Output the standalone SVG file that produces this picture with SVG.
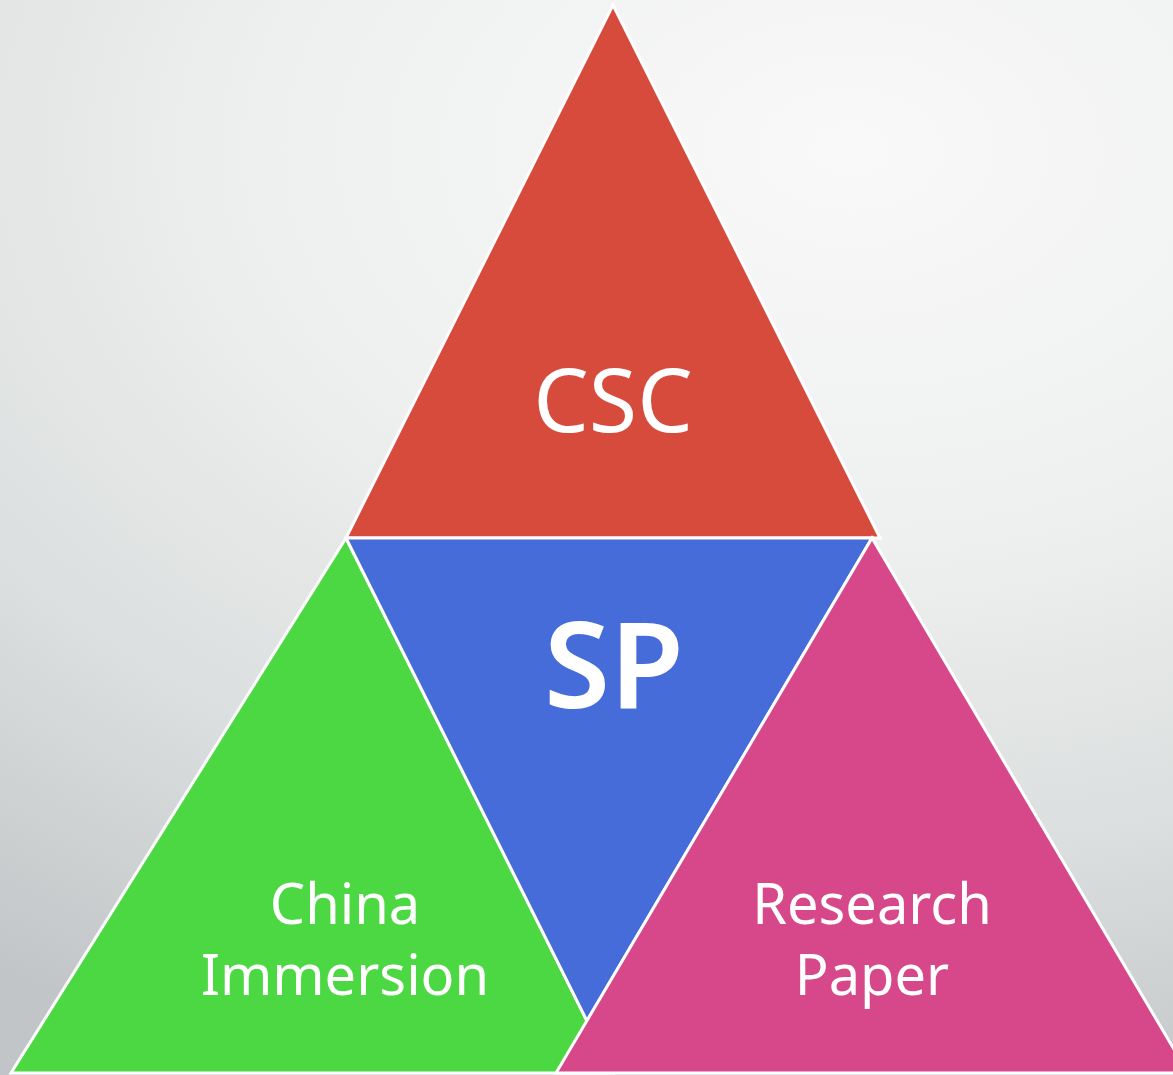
<svg xmlns="http://www.w3.org/2000/svg" width="1173" height="1075" viewBox="0 0 1173 1075">
<defs>
<radialGradient id="bg" cx="850" cy="150" r="1000" gradientUnits="userSpaceOnUse" gradientTransform="translate(850 150) scale(1.5 1) translate(-850 -150)">
<stop offset="0" stop-color="#f9f9f9"/>
<stop offset="0.4" stop-color="#eeefef"/>
<stop offset="0.7" stop-color="#dcdfdf"/>
<stop offset="1" stop-color="#c2c5c7"/>
</radialGradient>
</defs>
<style>
.tri{stroke:#ffffff;stroke-width:3;stroke-linejoin:miter}
.lbl{fill:#ffffff;font-family:"Noto Sans","Open Sans",sans-serif;text-anchor:middle}
</style>
<rect width="1173" height="1075" fill="url(#bg)"/>
<g id="csc">
<polygon class="tri" fill="#d64b3c" points="613,5 346,538 880,538"/>
<text class="lbl" x="613" y="432" font-size="88">CSC</text>
</g>
<g id="china">
<polygon class="tri" fill="#4cd842" points="346,538 11,1073 613,1073"/>
<text class="lbl" x="345" y="924" font-size="56">China</text>
<text class="lbl" x="345" y="995" font-size="56">Immersion</text>
</g>
<g id="sp">
<polygon class="tri" fill="#456cd8" points="346,538 872,538 587,1021"/>
<text class="lbl" x="614" y="708" font-size="120" font-weight="600">SP</text>
</g>
<g id="research">
<polygon class="tri" fill="#d64889" points="872,538 556,1073 1188,1073"/>
<text class="lbl" x="872" y="924" font-size="56">Research</text>
<text class="lbl" x="872" y="995" font-size="56">Paper</text>
</g>
<g id="connectors"></g>
</svg>
